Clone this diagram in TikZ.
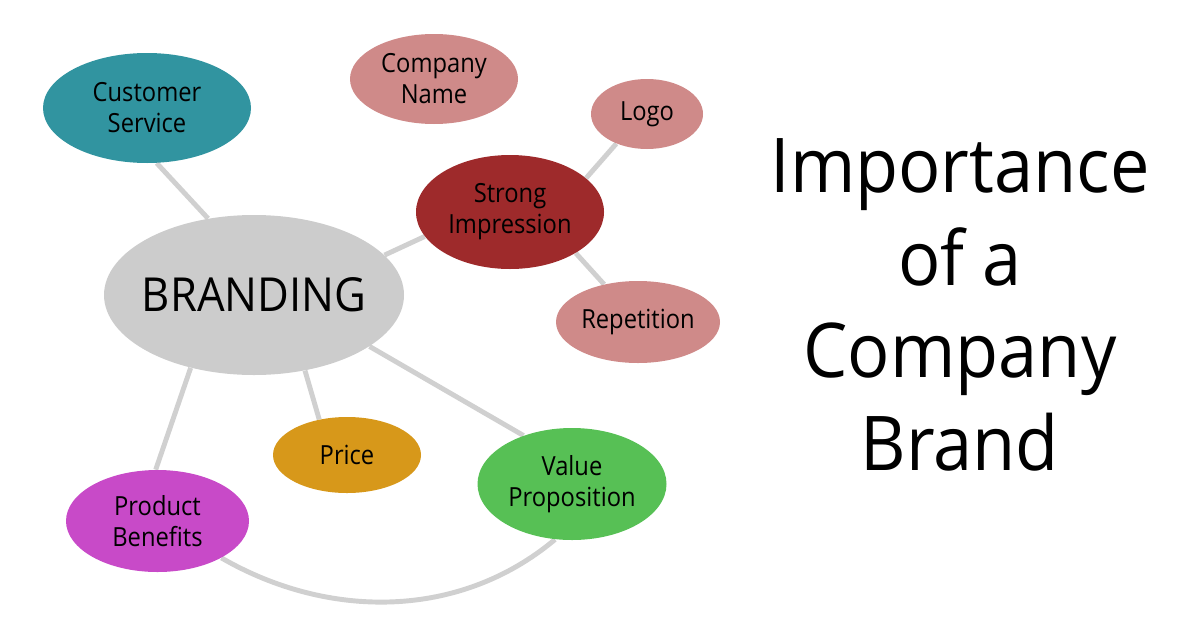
\documentclass[tikz,border=0pt]{standalone}
\usepackage{fontspec}
\setmainfont{Open Sans}
\newfontfamily\bubblefont[FakeStretch=0.9]{Open Sans}
\newfontfamily\titlefont[FakeStretch=0.93]{Open Sans}
\usetikzlibrary{shapes.geometric, backgrounds}
\definecolor{brTeal}{RGB}{49,148,160}
\definecolor{brRose}{RGB}{207,138,137}
\definecolor{brWine}{RGB}{158,42,43}
\definecolor{brGray}{RGB}{204,204,204}
\definecolor{brAmber}{RGB}{215,152,26}
\definecolor{brGreen}{RGB}{87,192,85}
\definecolor{brOrchid}{RGB}{200,74,200}
\definecolor{linkGray}{RGB}{208,208,208}

\begin{document}
\begin{tikzpicture}[
  bubble/.style={ellipse, inner sep=0pt, align=center, text=black,
    font=\bubblefont\fontsize{15}{17.6}\selectfont},
  link/.style={draw=linkGray, line width=2.8pt},
]
  \useasboundingbox (0,0) rectangle (24,12.6);

  \node[bubble, fill=brTeal, minimum width=4.16cm, minimum height=2.2cm] (customer) at (2.94,10.44) {Customer\\Service};
  \node[bubble, fill=brRose, minimum width=3.36cm, minimum height=1.8cm] (company) at (8.68,11.02) {Company\\Name};
  \node[bubble, fill=brRose, minimum width=2.24cm, minimum height=1.4cm] (logo) at (12.94,10.32) {Logo};
  \node[bubble, fill=brWine, minimum width=3.76cm, minimum height=2.28cm] (impression) at (10.2,8.36) {Strong\\Impression};
  \node[bubble, fill=brRose, minimum width=3.28cm, minimum height=1.64cm] (repetition) at (12.76,6.16) {Repetition};
  \node[bubble, fill=brGray, minimum width=6cm, minimum height=3.2cm, inner xsep=-12pt,
    font=\titlefont\fontsize{26.7}{30}\selectfont] (branding) at (5.08,6.7) {BRANDING};
  \node[bubble, fill=brAmber, minimum width=2.96cm, minimum height=1.52cm] (price) at (6.94,3.5) {Price};
  \node[bubble, fill=brGreen, minimum width=3.78cm, minimum height=2.24cm, inner xsep=-4pt] (value) at (11.44,2.92) {Value\\Proposition};
  \node[bubble, fill=brOrchid, minimum width=3.66cm, minimum height=2.04cm] (benefits) at (3.15,2.18) {Product\\Benefits};

  \node[align=center, font=\titlefont\fontsize{43}{52.7}\selectfont] (title) at (19.2,6.5) {Importance\\of a\\Company\\Brand};

  \begin{scope}[on background layer]
    \draw[link] (customer.-80) -- (branding.121);
    \draw[link] (branding.17) -- (impression.196);
    \draw[link] (impression.24) -- (logo.224);
    \draw[link] (impression.-32) -- (repetition.132);
    \draw[link] (branding.-56) -- (price.128);
    \draw[link] (branding.-131) -- (benefits.92);
    \draw[link] (branding.-24) -- (value.135);
    \draw[link] (benefits.-30) to[out=-30, in=-140, looseness=0.95] (value.-107);
  \end{scope}
\end{tikzpicture}
\end{document}
